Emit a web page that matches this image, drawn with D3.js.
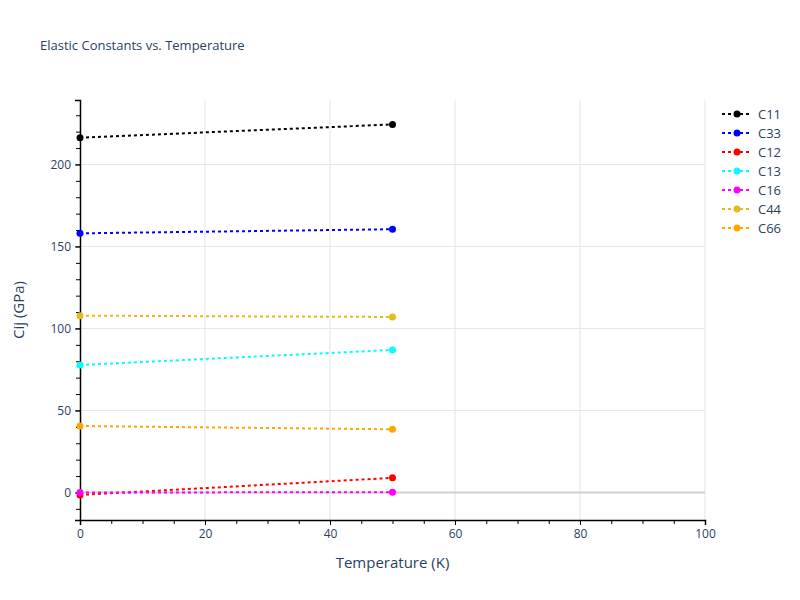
<!DOCTYPE html>
<html>
<head>
<meta charset="utf-8">
<script src="https://cdn.jsdelivr.net/npm/d3@7"></script>
<style>
  body { margin: 0; background: #fff; }
  text { font-family: "Open Sans", "Noto Sans", sans-serif; }
</style>
</head>
<body>
<svg id="chart" width="800" height="600"></svg>
<script>
const temperatures = [0, 50];
const seriesNames = ["C11", "C33", "C12", "C13", "C16", "C44", "C66"];
const C11 = [216.3, 224.4];
const C33 = [158.0, 160.5];
const C12 = [-1.5, 8.9];
const C13 = [77.7, 86.9];
const C16 = [0.0, 0.1];
const C44 = [107.8, 107.0];
const C66 = [40.5, 38.5];
const seriesColors = ["#000000", "#0000ff", "#ff0000", "#00ffff", "#ff00ff", "#e6b91e", "#ffa500"];
const xTicks = [0, 20, 40, 60, 80, 100];
const yTicks = [0, 50, 100, 150, 200];

const seriesValues = [C11, C33, C12, C13, C16, C44, C66];
const series = seriesNames.map((n, i) => ({ name: n, color: seriesColors[i],
  pts: temperatures.map((t, j) => ({ x: t, y: seriesValues[i][j] })) }));

const svg = d3.select("#chart");
const L = 80, R = 705, T = 100, B = 520;
const x = d3.scaleLinear().domain([0, 100]).range([L, R]);
const y = d3.scaleLinear().domain([-16.8, 239.3]).range([B, T]);
const textColor = "#2a3f5f";

// gridlines
svg.append("g").selectAll("line").data(xTicks.filter(d => d !== 0)).join("line")
  .attr("x1", d => x(d)).attr("x2", d => x(d)).attr("y1", T).attr("y2", B)
  .attr("stroke", "#e5e5e5").attr("stroke-width", 1);
svg.append("g").selectAll("line").data(yTicks.filter(d => d !== 0)).join("line")
  .attr("x1", L).attr("x2", R).attr("y1", d => y(d)).attr("y2", d => y(d))
  .attr("stroke", "#e5e5e5").attr("stroke-width", 1);
// zero line
svg.append("line").attr("x1", L).attr("x2", R).attr("y1", y(0)).attr("y2", y(0))
  .attr("stroke", "#d0d0d0").attr("stroke-width", 2);

// axes
const xAxis = d3.axisBottom(x).tickValues(xTicks).tickSize(5).tickPadding(4);
const gx = svg.append("g").attr("transform", `translate(0,${B})`).call(xAxis);
const xMinor = d3.axisBottom(x).tickValues(d3.range(0, 101, 5)).tickSize(4).tickFormat("");
svg.append("g").attr("transform", `translate(0,${B})`).call(xMinor).select(".domain").remove();
const yAxis = d3.axisLeft(y).tickValues(yTicks).tickSize(5).tickPadding(4);
const gy = svg.append("g").attr("transform", `translate(${L},0)`).call(yAxis);
const yMinor = d3.axisLeft(y).tickValues(d3.range(-10, 231, 10)).tickSize(4).tickFormat("");
svg.append("g").attr("transform", `translate(${L},0)`).call(yMinor).select(".domain").remove();
[gx, gy].forEach(g => {
  g.select(".domain").attr("stroke", "#000").attr("stroke-width", 1.5);
  g.selectAll(".tick text").attr("fill", textColor).style("font-size", "12px")
    .style("font-family", '"Open Sans", sans-serif');
});
svg.selectAll(".tick line").attr("stroke", "#000");

// lines
const line = d3.line().x(d => x(d.x)).y(d => y(d.y));
const plot = svg.append("g");
series.forEach(s => {
  plot.append("path").datum(s.pts).attr("d", line).attr("fill", "none")
    .attr("stroke", s.color).attr("stroke-width", 2).attr("stroke-dasharray", "3,3");
  plot.selectAll(null).data(s.pts).join("circle")
    .attr("cx", d => x(d.x)).attr("cy", d => y(d.y)).attr("r", 3.5).attr("fill", s.color);
});

// title
svg.append("text").attr("x", 40).attr("y", 50).text("Elastic Constants vs. Temperature")
  .attr("fill", textColor).style("font-size", "13px");
// axis titles
svg.append("text").attr("x", (L + R) / 2).attr("y", 568).attr("text-anchor", "middle")
  .text("Temperature (K)").attr("fill", textColor).style("font-size", "15px");
svg.append("text").attr("transform", `translate(24,${(T + B) / 2}) rotate(-90)`)
  .attr("text-anchor", "middle").text("Cij (GPa)").attr("fill", textColor).style("font-size", "15px");

// legend
const leg = svg.append("g").attr("transform", "translate(722,114)");
series.forEach((s, i) => {
  const g = leg.append("g").attr("transform", `translate(0,${i * 19})`);
  g.append("line").attr("x1", 0).attr("x2", 30).attr("y1", 0).attr("y2", 0)
    .attr("stroke", s.color).attr("stroke-width", 2).attr("stroke-dasharray", "3,3");
  g.append("circle").attr("cx", 15).attr("cy", 0).attr("r", 3.5).attr("fill", s.color);
  g.append("text").attr("x", 36).attr("y", 4.5).text(s.name).attr("fill", textColor).style("font-size", "13px");
});
</script>
</body>
</html>
